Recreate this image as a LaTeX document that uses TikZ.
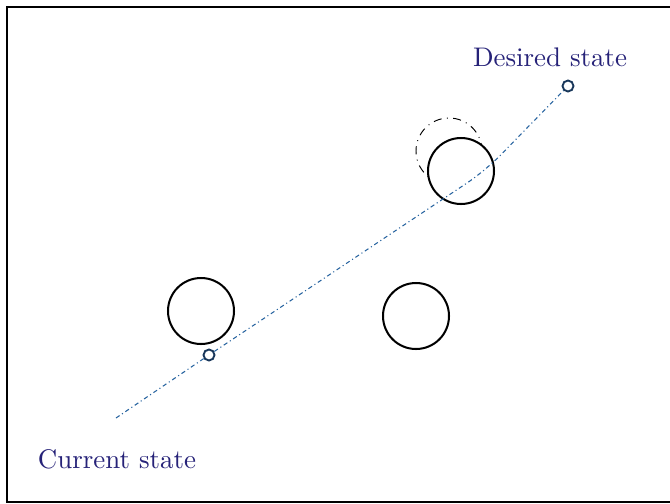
\documentclass[tikz,border=0pt]{standalone}
\definecolor{labelblue}{RGB}{38,34,120}
\definecolor{pathblue}{RGB}{40,100,160}
\definecolor{markblue}{RGB}{25,55,90}
\begin{document}
\begin{tikzpicture}[x=0.3715pt,y=-0.3715pt,
  obstacle/.style={circle,draw=black,fill=white,line width=0.75pt,minimum size=66*0.3715pt,inner sep=0pt},
  ghost/.style={circle,draw=black,line width=0.35pt,dash dot,minimum size=66*0.3715pt,inner sep=0pt},
  marker/.style={circle,draw=markblue,line width=0.7pt,minimum size=11*0.3715pt,inner sep=0pt},
  route/.style={draw=pathblue,line width=0.4pt,dash pattern=on 1.6pt off 1.1pt on 0.4pt off 1.1pt,rounded corners=8pt},
  lbl/.style={text=labelblue,font=\normalsize}]
\useasboundingbox (0,0) rectangle (670,504);
\draw[line width=0.75pt] (7,7) rectangle (690,502);
\node[ghost] (g) at (449,151) {};
\node[obstacle] (o1) at (201,311) {};
\node[obstacle] (o2) at (416,316) {};
\node[obstacle] (o3) at (461,171) {};
\coordinate (start) at (116,418);
\coordinate (bend) at (485,171);
\node[marker] (wp) at (209,355) {};
\node[marker] (goal) at (568,86) {};
\draw[route] (start) -- (wp);
\draw[route] (wp) -- (bend) -- (goal);
\node[lbl] (dl) at (550,57) {Desired state};
\node[lbl] (cl) at (117,459) {Current state};
\end{tikzpicture}
\end{document}
